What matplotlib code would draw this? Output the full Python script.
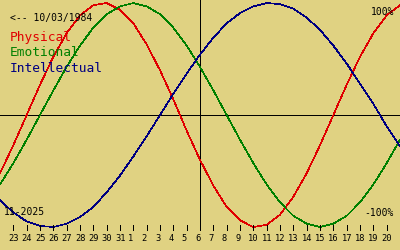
import matplotlib
matplotlib.use("Agg")
import matplotlib.pyplot as plt
import matplotlib.transforms as mtransforms

# day-of-month for each plotted day (22 Oct .. 21 Nov 2025)
days = [22, 23, 24, 25, 26, 27, 28, 29, 30, 31,
        1, 2, 3, 4, 5, 6, 7, 8, 9, 10,
        11, 12, 13, 14, 15, 16, 17, 18, 19, 20, 21]
today = 6  # the vertical line (6 Nov)

physical = [-0.52, -0.27, 0.00, 0.27, 0.52, 0.73, 0.89, 0.98, 1.00, 0.94,
            0.82, 0.63, 0.40, 0.14, -0.14, -0.40, -0.63, -0.82, -0.94, -1.00,
            -0.98, -0.89, -0.73, -0.52, -0.27, 0.00, 0.27, 0.52, 0.73, 0.89, 0.98]
emotional = [-0.62, -0.43, -0.22, 0.00, 0.22, 0.43, 0.62, 0.78, 0.90, 0.97,
             1.00, 0.97, 0.90, 0.78, 0.62, 0.43, 0.22, 0.00, -0.22, -0.43,
             -0.62, -0.78, -0.90, -0.97, -1.00, -0.97, -0.90, -0.78, -0.62, -0.43, -0.22]
intellectual = [-0.76, -0.87, -0.95, -0.99, -1.00, -0.97, -0.91, -0.82, -0.69, -0.54,
                -0.37, -0.19, 0.00, 0.19, 0.37, 0.54, 0.69, 0.82, 0.91, 0.97,
                1.00, 0.99, 0.95, 0.87, 0.76, 0.62, 0.46, 0.28, 0.10, -0.10, -0.28]

birth = "10/03/1984"
month_label = "11-2025"

bg = "#e0d282"
cols = {"Physical": "#e00000", "Emotional": "#008000", "Intellectual": "#000080"}
mono = "DejaVu Sans Mono"
lw = 0.7

fig = plt.figure(figsize=(4, 2.5), dpi=100, facecolor=bg)
ax = fig.add_axes([0, 0, 1, 1])
ax.set_facecolor(bg)
ax.set_axis_off()

x = list(range(len(days)))
ax.set_xlim(0, len(days) - 1)
ax.set_ylim(-1.205, 1.027)

# axes cross
ax.axhline(0, color="black", lw=lw, antialiased=False)
ax.axvline(x[days.index(today, 10)], ymin=0.08, color="black", lw=lw,
           antialiased=False)

for name, vals in [("Physical", physical), ("Emotional", emotional),
                   ("Intellectual", intellectual)]:
    ax.plot(x, vals, color=cols[name], lw=0.45, antialiased=False)

# day ticks along the bottom
trans = mtransforms.blended_transform_factory(ax.transData, ax.transAxes)
lab_trans = trans + mtransforms.ScaledTranslation(-5 / 100, 0, fig.dpi_scale_trans)
for xi, d in zip(x[1:-1], days[1:-1]):
    if d != today:
        ax.plot([xi, xi], [0.08, 0.10], color="black", lw=lw, transform=trans,
                antialiased=False)
    ax.text(xi, 0.046, str(d), transform=lab_trans, ha="left", va="center",
            fontsize=6.3, family=mono)

ax.text(0.025, 0.93, "<-- " + birth, transform=ax.transAxes, fontsize=7,
        family=mono, va="center")
for i, name in enumerate(cols):
    ax.text(0.025, 0.848 - i * 0.06, name, transform=ax.transAxes,
            fontsize=9.3, family=mono, color=cols[name], va="center")
ax.text(0.985, 0.953, "100%", transform=ax.transAxes, fontsize=7,
        family=mono, ha="right", va="center")
ax.text(0.985, 0.148, "-100%", transform=ax.transAxes, fontsize=7,
        family=mono, ha="right", va="center")
ax.text(0.01, 0.152, month_label, transform=ax.transAxes, fontsize=7,
        family=mono, va="center")

fig.savefig("out.png", dpi=100, facecolor=bg)
